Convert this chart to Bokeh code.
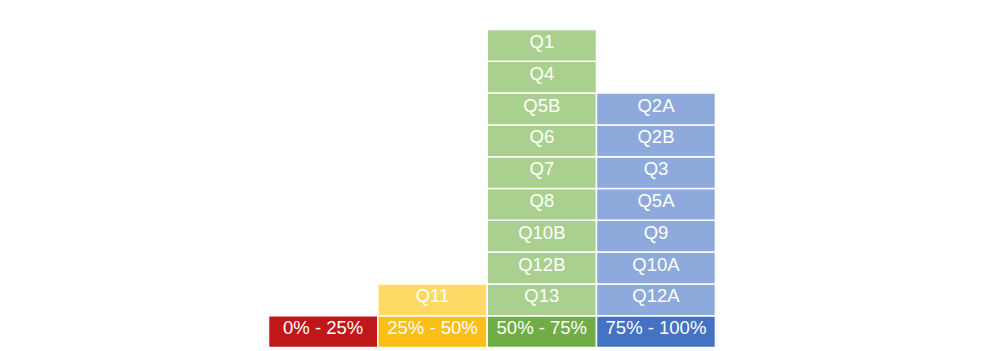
from bokeh.plotting import figure
from bokeh.models import ColumnDataSource, Range1d
from bokeh.embed import file_html
from bokeh.resources import INLINE
from bokeh.core.properties import value

categories = ["0% - 25%", "25% - 50%", "50% - 75%", "75% - 100%"]
items_0_25 = []
items_25_50 = ["Q11"]
items_50_75 = ["Q1", "Q4", "Q5B", "Q6", "Q7", "Q8", "Q10B", "Q12B", "Q13"]
items_75_100 = ["Q2A", "Q2B", "Q3", "Q5A", "Q9", "Q10A", "Q12A"]
groups = [items_0_25, items_25_50, items_50_75, items_75_100]

# styles / layout
dark_colors = ["#C0171B", "#FDBF17", "#70AD47", "#4472C4"]
light_colors = ["#FFD966", "#FFD966", "#A9D08E", "#8EA9DB"]
col_widths = [1.0, 1.0, 1.0, 1.088]

lefts = []
acc = 0.0
for w in col_widths:
    lefts.append(acc)
    acc += w

hx0, hx1, hy0, hy1, htxt, hcx, hcy = [], [], [], [], [], [], []
for i, c in enumerate(categories):
    hx0.append(lefts[i]); hx1.append(lefts[i] + col_widths[i])
    hy0.append(0); hy1.append(1)
    htxt.append(c); hcx.append(lefts[i] + col_widths[i] / 2); hcy.append(0.5)
head = ColumnDataSource(dict(left=hx0, right=hx1, bottom=hy0, top=hy1,
                             text=htxt, cx=hcx, cy=hcy, color=dark_colors))

ix0, ix1, iy0, iy1, itxt, icx, icy, icol = [], [], [], [], [], [], [], []
for i, g in enumerate(groups):
    for k, name in enumerate(reversed(g)):
        ix0.append(lefts[i]); ix1.append(lefts[i] + col_widths[i])
        iy0.append(1 + k); iy1.append(2 + k)
        itxt.append(name); icx.append(lefts[i] + col_widths[i] / 2); icy.append(1.5 + k)
        icol.append(light_colors[i])
cells = ColumnDataSource(dict(left=ix0, right=ix1, bottom=iy0, top=iy1,
                              text=itxt, cx=icx, cy=icy, color=icol))

unit_x = 109.33
unit_y = 31.8
p = figure(width=981, height=351, output_backend="svg", toolbar_location=None,
           x_range=Range1d(-268 / unit_x, (981 - 268) / unit_x),
           y_range=Range1d(-4 / unit_y, 347 / unit_y),
           min_border=0)
p.axis.visible = False
p.grid.visible = False
p.outline_line_color = None
p.background_fill_color = "white"

for src in (head, cells):
    p.quad(left="left", right="right", bottom="bottom", top="top", source=src,
           fill_color="color", line_color="white", line_width=1.5)
    p.text(x="cx", y="cy", text="text", source=src, text_color="white",
           text_font=value("Liberation Sans"), text_font_size="18.5px",
           text_align="center", text_baseline="middle", y_offset=-4)

open("out.html", "w").write(file_html(p, INLINE))
